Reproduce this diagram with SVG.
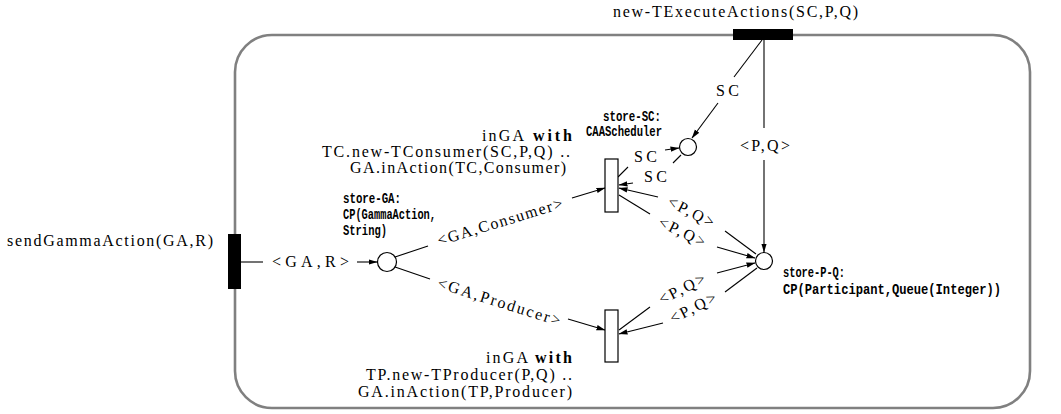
<svg xmlns="http://www.w3.org/2000/svg" width="1061" height="414" viewBox="0 0 1061 414">
<style>
.s{font-family:"Liberation Serif",serif;font-size:16px;fill:#000}
.b{font-weight:bold}
.m{font-family:"Liberation Mono",monospace;font-size:14px;font-weight:bold;fill:#000}
.e{stroke:#000;stroke-width:1.1;fill:none}
.pl{fill:#fff;stroke:#000;stroke-width:1.2}
.tr{fill:#fff;stroke:#000;stroke-width:1.2}
.bar{fill:#000}
</style>
<defs>
<marker id="ah" markerWidth="9" markerHeight="7" refX="8.5" refY="3.5" orient="auto" markerUnits="userSpaceOnUse">
<path d="M0,0.8 L9,3.5 L0,6.2 Z" fill="#000"/>
</marker>
</defs>
<rect x="235" y="35" width="795" height="373" rx="37" ry="37" fill="none" stroke="#808080" stroke-width="2.6"/>

<g id="connectors">
<line class="e" x1="241" y1="262" x2="263" y2="262"/>
<text class="s" x="272" y="267" textLength="77" lengthAdjust="spacing">&lt;GA,R&gt;</text>
<line class="e" x1="357" y1="262" x2="377" y2="262" marker-end="url(#ah)"/>

<line class="e" x1="395" y1="257" x2="428" y2="246"/>
<text class="s" transform="translate(500,222) rotate(-17)" x="-65" y="5" textLength="130" lengthAdjust="spacing">&lt;GA,Consumer&gt;</text>
<line class="e" x1="572" y1="198" x2="605" y2="188" marker-end="url(#ah)"/>

<line class="e" x1="395" y1="267" x2="430" y2="279"/>
<text class="s" transform="translate(499,302) rotate(17.5)" x="-64" y="5" textLength="128" lengthAdjust="spacing">&lt;GA,Producer&gt;</text>
<line class="e" x1="568" y1="319" x2="605" y2="330" marker-end="url(#ah)"/>

<line class="e" x1="762" y1="40" x2="734" y2="77"/>
<text class="s" x="716" y="96" textLength="23" lengthAdjust="spacing">SC</text>
<line class="e" x1="718" y1="103" x2="692" y2="138" marker-end="url(#ah)"/>

<line class="e" x1="764" y1="40" x2="764" y2="128"/>
<text class="s" x="740" y="151" textLength="50" lengthAdjust="spacing">&lt;P,Q&gt;</text>
<line class="e" x1="764" y1="160" x2="764" y2="252" marker-end="url(#ah)"/>

<line class="e" x1="618" y1="177" x2="628" y2="167"/>
<text class="s" x="634" y="162" textLength="23" lengthAdjust="spacing">SC</text>
<line class="e" x1="665" y1="150" x2="679" y2="148" marker-end="url(#ah)"/>

<line class="e" x1="681" y1="155" x2="673" y2="163"/>
<text class="s" x="644" y="182" textLength="23" lengthAdjust="spacing">SC</text>
<line class="e" x1="633" y1="183" x2="619" y2="185" marker-end="url(#ah)"/>

<line class="e" x1="658" y1="197" x2="619" y2="188" marker-end="url(#ah)"/>
<text class="s" transform="translate(691,212) rotate(27)" x="-25" y="5" textLength="50" lengthAdjust="spacing">&lt;P,Q&gt;</text>
<line class="e" x1="756" y1="254" x2="725" y2="231"/>

<line class="e" x1="619" y1="195" x2="650" y2="214"/>
<text class="s" transform="translate(682,232) rotate(26)" x="-25" y="5" textLength="50" lengthAdjust="spacing">&lt;P,Q&gt;</text>
<line class="e" x1="717" y1="247" x2="755" y2="258" marker-end="url(#ah)"/>

<line class="e" x1="619" y1="330" x2="650" y2="307"/>
<text class="s" transform="translate(682,289) rotate(-27)" x="-25" y="5" textLength="50" lengthAdjust="spacing">&lt;P,Q&gt;</text>
<line class="e" x1="717" y1="273" x2="755" y2="263" marker-end="url(#ah)"/>

<line class="e" x1="757" y1="268" x2="725" y2="292"/>
<text class="s" transform="translate(693,308) rotate(-27)" x="-25" y="5" textLength="50" lengthAdjust="spacing">&lt;P,Q&gt;</text>
<line class="e" x1="663" y1="323" x2="619" y2="334" marker-end="url(#ah)"/>
</g>

<g id="t-execute">
<rect class="bar" x="733" y="29" width="60" height="11"/>
<text class="s" x="613" y="17" textLength="245" lengthAdjust="spacing">new-TExecuteActions(SC,P,Q)</text>
</g>

<g id="t-send">
<rect class="bar" x="228" y="234" width="13" height="55"/>
<text class="s" x="7" y="246" textLength="206" lengthAdjust="spacing">sendGammaAction(GA,R)</text>
</g>

<g id="store-GA">
<circle class="pl" cx="387" cy="262" r="9.5"/>
<text class="m" x="343" y="203" textLength="58" lengthAdjust="spacingAndGlyphs">store-GA:</text>
<text class="m" x="343" y="219" textLength="93" lengthAdjust="spacingAndGlyphs">CP(GammaAction,</text>
<text class="m" x="343" y="235" textLength="44" lengthAdjust="spacingAndGlyphs">String)</text>
</g>

<g id="store-SC">
<circle class="pl" cx="688" cy="147" r="8.5"/>
<text class="m" x="603" y="121" textLength="58" lengthAdjust="spacingAndGlyphs">store-SC:</text>
<text class="m" x="586" y="136" textLength="76" lengthAdjust="spacingAndGlyphs">CAAScheduler</text>
</g>

<g id="store-PQ">
<circle class="pl" cx="764" cy="261" r="8.5"/>
<text class="m" x="783" y="277" textLength="62" lengthAdjust="spacingAndGlyphs">store-P-Q:</text>
<text class="m" x="783" y="294" textLength="218" lengthAdjust="spacingAndGlyphs">CP(Participant,Queue(Integer))</text>
</g>

<g id="t-consumer">
<rect class="tr" x="605" y="159" width="13" height="53"/>
<text class="s" x="482" y="141" textLength="42" lengthAdjust="spacing">inGA</text>
<text class="s b" x="533" y="141" textLength="39" lengthAdjust="spacing">with</text>
<text class="s" x="322" y="157" textLength="248" lengthAdjust="spacing">TC.new-TConsumer(SC,P,Q) ..</text>
<text class="s" x="350" y="173" textLength="216" lengthAdjust="spacing">GA.inAction(TC,Consumer)</text>
</g>

<g id="t-producer">
<rect class="tr" x="605" y="310" width="13" height="52"/>
<text class="s" x="486" y="363" textLength="42" lengthAdjust="spacing">inGA</text>
<text class="s b" x="535" y="363" textLength="37" lengthAdjust="spacing">with</text>
<text class="s" x="366" y="380" textLength="206" lengthAdjust="spacing">TP.new-TProducer(P,Q) ..</text>
<text class="s" x="358" y="397" textLength="214" lengthAdjust="spacing">GA.inAction(TP,Producer)</text>
</g>
</svg>
